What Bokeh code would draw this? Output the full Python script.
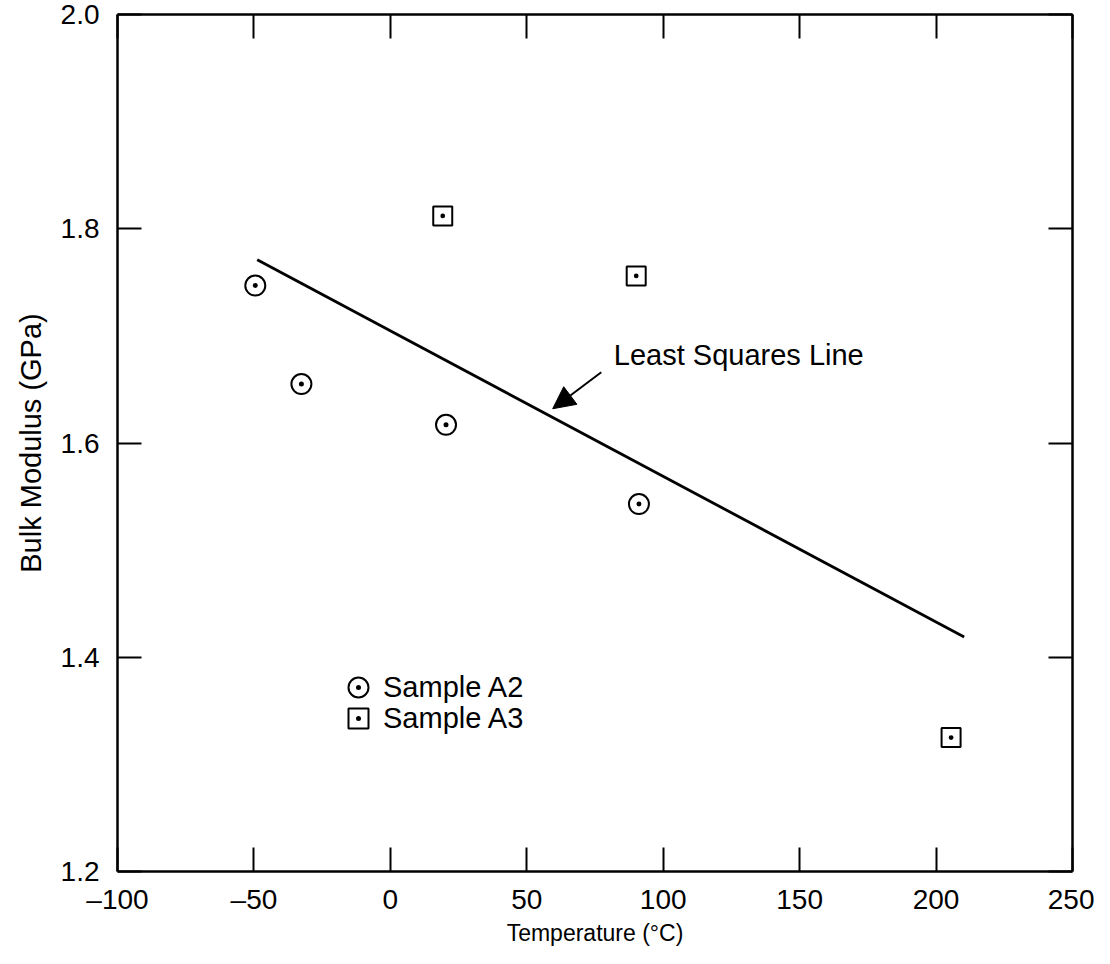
from bokeh.plotting import figure
from bokeh.models import (LinearAxis, FixedTicker, Range1d, Arrow, NormalHead, Label,
                          Legend, LegendItem, CustomLabelingPolicy)
from bokeh.embed import file_html
from bokeh.resources import INLINE

# ---------------- data ----------------
a2_temp = [-49.5, -32.6, 20.4, 91.1]
a2_mod = [1.747, 1.655, 1.617, 1.543]
a3_temp = [19.2, 90.1, 205.5]
a3_mod = [1.812, 1.756, 1.325]
fit_temp = [-48.8, 210.3]
fit_mod = [1.771, 1.419]

x_ticks = [-100, -50, 0, 50, 100, 150, 200, 250]
x_tick_labels = ["\u2013100", "\u201350", "0", "50", "100", "150", "200", "250"]
y_ticks = [1.2, 1.4, 1.6, 1.8, 2.0]
y_tick_labels = ["1.2", "1.4", "1.6", "1.8", "2.0"]
series_names = ["Sample A2", "Sample A3"]
x_title = "Temperature (\u00b0C)"
y_title = "Bulk Modulus (GPa)"
fit_label = "Least Squares Line"

# annotation anchors (data units)
fit_label_pos = (81.9, 1.682)
arrow_tail = (77.3, 1.666)
arrow_tip = (59.5, 1.632)

FONT = "Liberation Sans"

p = figure(width=1094, height=948,
           x_range=Range1d(-100, 250), y_range=Range1d(1.2, 2.0),
           output_backend="svg", toolbar_location=None,
           min_border_left=117, min_border_right=22,
           min_border_top=14, min_border_bottom=76,
           background_fill_color="white", border_fill_color="white",
           outline_line_color=None)
p.grid.visible = False

hide_labels = CustomLabelingPolicy(code="return []")


def style_axis(ax, ticks, labels, show_labels):
    ax.ticker = FixedTicker(ticks=ticks)
    ax.axis_line_color = "black"
    ax.axis_line_width = 2.5
    ax.major_tick_in = 24
    ax.major_tick_out = 0
    ax.major_tick_line_color = "black"
    ax.major_tick_line_width = 2
    ax.minor_tick_line_color = None
    if show_labels:
        ax.major_label_overrides = dict(zip(ticks, labels))
        ax.major_label_text_font = FONT
        ax.major_label_text_font_size = "28px"
        ax.major_label_text_color = "black"
    else:
        ax.major_label_policy = hide_labels
        ax.major_label_text_font_size = "1px"
        ax.major_label_standoff = 0


xb = p.xaxis[0]
yl = p.yaxis[0]
style_axis(xb, x_ticks, x_tick_labels, True)
style_axis(yl, y_ticks, y_tick_labels, True)
xb.major_label_standoff = 12
yl.major_label_standoff = 18

xb.axis_label = x_title
xb.axis_label_text_font = FONT
xb.axis_label_text_font_style = "normal"
xb.axis_label_text_font_size = "23px"
xb.axis_label_text_color = "black"
xb.axis_label_standoff = 2

yl.axis_label = y_title
yl.axis_label_text_font = FONT
yl.axis_label_text_font_style = "normal"
yl.axis_label_text_font_size = "29px"
yl.axis_label_text_color = "black"
yl.axis_label_standoff = 11

xt = LinearAxis()
style_axis(xt, x_ticks, x_tick_labels, False)
p.add_layout(xt, "above")
yr = LinearAxis()
style_axis(yr, y_ticks, y_tick_labels, False)
p.add_layout(yr, "right")

# least squares line
p.line(fit_temp, fit_mod, line_color="black", line_width=2.8)

# data points
r_a2 = p.scatter(a2_temp, a2_mod, marker="circle_dot", size=20,
                 line_color="black", line_width=2, fill_color="white")
r_a3 = p.scatter(a3_temp, a3_mod, marker="square_dot", size=19,
                 line_color="black", line_width=2, fill_color="white")

# annotation
p.add_layout(Label(x=fit_label_pos[0], y=fit_label_pos[1], text=fit_label,
                   text_align="left", text_baseline="middle",
                   text_font=FONT, text_font_size="29px", text_color="black"))
p.add_layout(Arrow(end=NormalHead(size=22, fill_color="black", line_color="black", line_width=1),
                   x_start=arrow_tail[0], y_start=arrow_tail[1],
                   x_end=arrow_tip[0], y_end=arrow_tip[1],
                   line_color="black", line_width=2))

legend_locs = [(216, 159), (216, 128)]
for name, rend, loc in zip(series_names, [r_a2, r_a3], legend_locs):
    p.add_layout(Legend(items=[LegendItem(label=name, renderers=[rend])],
                        location=loc, glyph_width=50, glyph_height=50,
                        spacing=0, padding=0, margin=0, label_standoff=0,
                        border_line_color=None, background_fill_alpha=0,
                        label_text_font=FONT, label_text_font_size="29px",
                        label_text_color="black"))

open("out.html", "w").write(file_html(p, INLINE))
